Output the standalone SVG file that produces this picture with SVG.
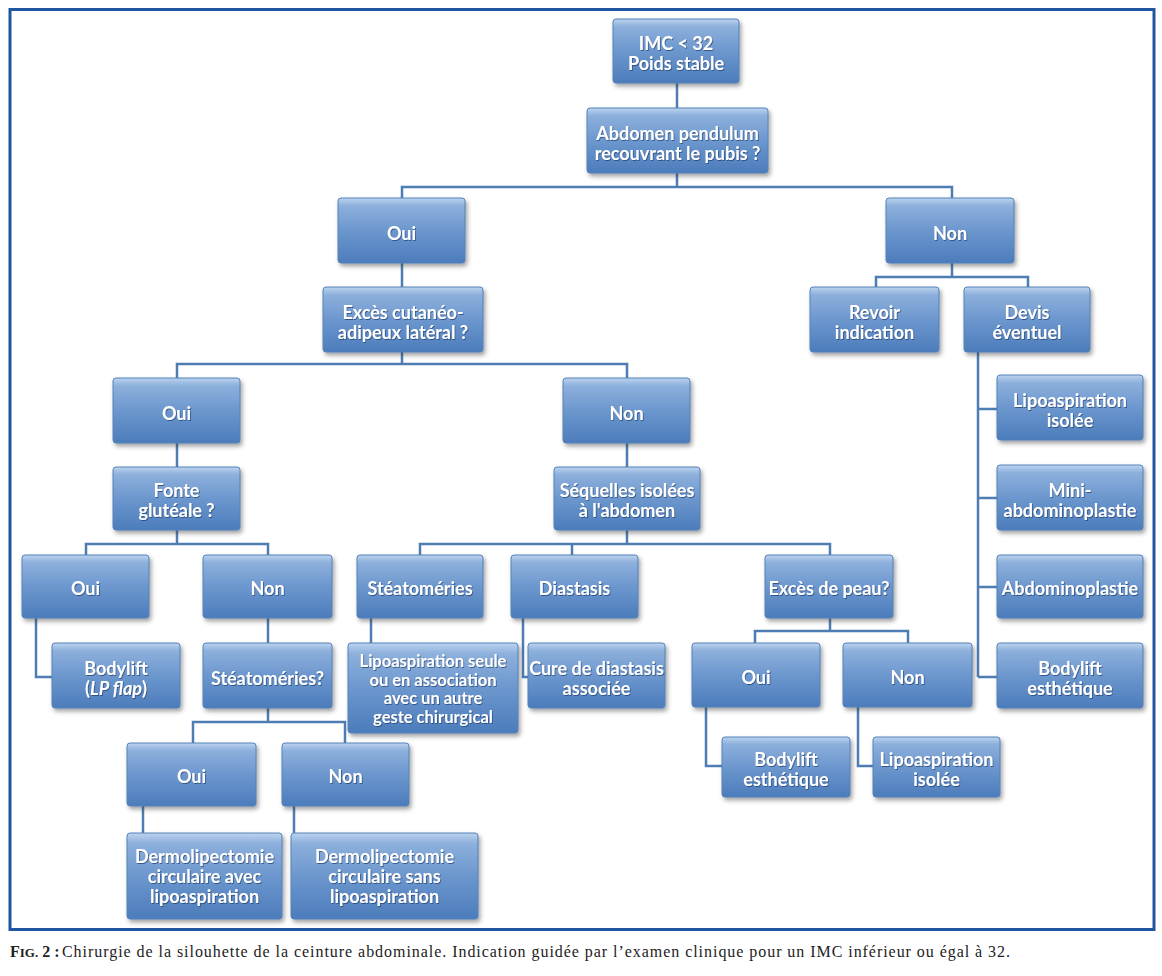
<svg xmlns="http://www.w3.org/2000/svg" width="1162" height="976" viewBox="0 0 1162 976">
<defs>
<linearGradient id="g" x1="0" y1="0" x2="0" y2="1">
<stop offset="0" stop-color="#bcd3ee"/>
<stop offset="0.12" stop-color="#8db0dc"/>
<stop offset="0.5" stop-color="#6c97ce"/>
<stop offset="1" stop-color="#4c7cbb"/>
</linearGradient>
<filter id="sh" x="-10%" y="-10%" width="130%" height="140%">
<feDropShadow dx="2" dy="3" stdDeviation="2" flood-color="#333" flood-opacity="0.45"/>
</filter>
<filter id="ts" x="-5%" y="-20%" width="110%" height="150%">
<feDropShadow dx="0.8" dy="1" stdDeviation="0.7" flood-color="#1c3d6b" flood-opacity="0.7"/>
</filter>
<style>
.box{fill:url(#g);stroke:#5582bb;stroke-width:1;filter:url(#sh)}
.t{font-family:Lato,"Liberation Sans",sans-serif;font-weight:bold;font-size:18px;fill:#fff;text-anchor:middle;filter:url(#ts)}
.s{font-size:16.5px}
.c{fill:none;stroke:#4d7db3;stroke-width:2.5}
.cap{font-family:"Liberation Serif","DejaVu Serif",serif;font-size:16px;fill:#222}
</style>
</defs>
<rect x="10" y="9.5" width="1144" height="920" fill="#fff" stroke="#1f56a0" stroke-width="3"/>
<g id="connectors" class="c">
<path d="M677 83V108"/>
<path d="M677 173V187M402 198V187H952V198"/>
<path d="M402 263V287"/>
<path d="M952 263V277M876 287V277H1028V287"/>
<path d="M978 352V677M978 409H997M978 498H997M978 587H997M978 677H997"/>
<path d="M402 352V364M177 378V364H627V378"/>
<path d="M177 443V467M627 443V467"/>
<path d="M177 530V544M86 555V544H268V555"/>
<path d="M627 530V544M420 555V544H830V555M572 544V555"/>
<path d="M36 618V677H52"/>
<path d="M268 618V643"/>
<path d="M268 708V722M193 743V722H345V743"/>
<path d="M143 806V833M294 806V833"/>
<path d="M371 618V643"/>
<path d="M523 618V677H528"/>
<path d="M830 618V631M755 643V631H908V643"/>
<path d="M706 707V766H722M858 707V766H873"/>
</g>
<g id="n1"><rect class="box" x="613" y="19" width="126" height="64" rx="3"/><text class="t" x="676" y="50">IMC &lt; 32</text><text class="t" x="676" y="70">Poids stable</text></g>
<g id="n2"><rect class="box" x="587" y="108" width="181" height="65" rx="3"/><text class="t" x="677.5" y="140">Abdomen pendulum</text><text class="t" x="677.5" y="160">recouvrant le pubis ?</text></g>
<g id="n3"><rect class="box" x="338" y="198" width="127" height="65" rx="3"/><text class="t" x="401.5" y="240">Oui</text></g>
<g id="n4"><rect class="box" x="886" y="198" width="128" height="65" rx="3"/><text class="t" x="950" y="240">Non</text></g>
<g id="n5"><rect class="box" x="323" y="287" width="160" height="65" rx="3"/><text class="t" x="403" y="319">Excès cutanéo-</text><text class="t" x="403" y="339">adipeux latéral ?</text></g>
<g id="n6"><rect class="box" x="810" y="287" width="129" height="65" rx="3"/><text class="t" x="874.5" y="319">Revoir</text><text class="t" x="874.5" y="339">indication</text></g>
<g id="n7"><rect class="box" x="964" y="287" width="126" height="65" rx="3"/><text class="t" x="1027" y="319">Devis</text><text class="t" x="1027" y="339">éventuel</text></g>
<g id="n8"><rect class="box" x="113" y="378" width="127" height="65" rx="3"/><text class="t" x="176.5" y="420">Oui</text></g>
<g id="n9"><rect class="box" x="563" y="378" width="127" height="65" rx="3"/><text class="t" x="626.5" y="420">Non</text></g>
<g id="n10"><rect class="box" x="113" y="467" width="127" height="63" rx="3"/><text class="t" x="176.5" y="497">Fonte</text><text class="t" x="176.5" y="517">glutéale ?</text></g>
<g id="n11"><rect class="box" x="554" y="467" width="146" height="63" rx="3"/><text class="t" x="627" y="497">Séquelles isolées</text><text class="t" x="627" y="517">à l'abdomen</text></g>
<g id="n12"><rect class="box" x="997" y="375" width="146" height="65" rx="3"/><text class="t" x="1070" y="407">Lipoaspiration</text><text class="t" x="1070" y="427">isolée</text></g>
<g id="n13"><rect class="box" x="997" y="465" width="146" height="65" rx="3"/><text class="t" x="1070" y="497">Mini-</text><text class="t" x="1070" y="517">abdominoplastie</text></g>
<g id="n14"><rect class="box" x="997" y="555" width="146" height="63" rx="3"/><text class="t" x="1070" y="595">Abdominoplastie</text></g>
<g id="n15"><rect class="box" x="997" y="643" width="146" height="65" rx="3"/><text class="t" x="1070" y="675">Bodylift</text><text class="t" x="1070" y="695">esthétique</text></g>
<g id="n16"><rect class="box" x="22" y="555" width="127" height="63" rx="3"/><text class="t" x="85.5" y="595">Oui</text></g>
<g id="n17"><rect class="box" x="203" y="555" width="129" height="63" rx="3"/><text class="t" x="267.5" y="595">Non</text></g>
<g id="n18"><rect class="box" x="357" y="555" width="126" height="63" rx="3"/><text class="t" x="420" y="595">Stéatoméries</text></g>
<g id="n19"><rect class="box" x="511" y="555" width="127" height="63" rx="3"/><text class="t" x="574.5" y="595">Diastasis</text></g>
<g id="n20"><rect class="box" x="765" y="555" width="128" height="63" rx="3"/><text class="t" x="829" y="595">Excès de peau?</text></g>
<g id="n21"><rect class="box" x="52" y="643" width="128" height="65" rx="3"/><text class="t" x="116" y="675">Bodylift</text><text class="t" x="116" y="695">(<tspan font-style="italic">LP flap</tspan>)</text></g>
<g id="n22"><rect class="box" x="203" y="643" width="129" height="65" rx="3"/><text class="t" x="267.5" y="685">Stéatoméries?</text></g>
<g id="n23"><rect class="box" x="348" y="643" width="170" height="90" rx="3"/><text class="t s" x="433" y="667">Lipoaspiration seule</text><text class="t s" x="433" y="685.5">ou en association</text><text class="t s" x="433" y="704">avec un autre</text><text class="t s" x="433" y="722.5">geste chirurgical</text></g>
<g id="n24"><rect class="box" x="528" y="643" width="137" height="65" rx="3"/><text class="t" x="596.5" y="675">Cure de diastasis</text><text class="t" x="596.5" y="695">associée</text></g>
<g id="n25"><rect class="box" x="692" y="643" width="128" height="64" rx="3"/><text class="t" x="756" y="684">Oui</text></g>
<g id="n26"><rect class="box" x="843" y="643" width="129" height="64" rx="3"/><text class="t" x="907.5" y="684">Non</text></g>
<g id="n27"><rect class="box" x="722" y="737" width="128" height="60" rx="3"/><text class="t" x="786" y="766">Bodylift</text><text class="t" x="786" y="786">esthétique</text></g>
<g id="n28"><rect class="box" x="873" y="737" width="127" height="60" rx="3"/><text class="t" x="936.5" y="766">Lipoaspiration</text><text class="t" x="936.5" y="786">isolée</text></g>
<g id="n29"><rect class="box" x="127" y="743" width="129" height="63" rx="3"/><text class="t" x="191.5" y="783">Oui</text></g>
<g id="n30"><rect class="box" x="282" y="743" width="127" height="63" rx="3"/><text class="t" x="345.5" y="783">Non</text></g>
<g id="n31"><rect class="box" x="127" y="833" width="155" height="86" rx="3"/><text class="t" x="204.5" y="863">Dermolipectomie</text><text class="t" x="204.5" y="883">circulaire avec</text><text class="t" x="204.5" y="903">lipoaspiration</text></g>
<g id="n32"><rect class="box" x="291" y="833" width="187" height="86" rx="3"/><text class="t" x="384.5" y="863">Dermolipectomie</text><text class="t" x="384.5" y="883">circulaire sans</text><text class="t" x="384.5" y="903">lipoaspiration</text></g>
<g id="caption">
<text class="cap" x="10" y="957" font-weight="bold" font-size="16">F<tspan font-size="13">IG.</tspan> 2 :</text>
<text class="cap" x="62" y="957" textLength="948" lengthAdjust="spacing">Chirurgie de la silouhette de la ceinture abdominale. Indication guidée par l’examen clinique pour un IMC inférieur ou égal à 32.</text>
</g>
</svg>
